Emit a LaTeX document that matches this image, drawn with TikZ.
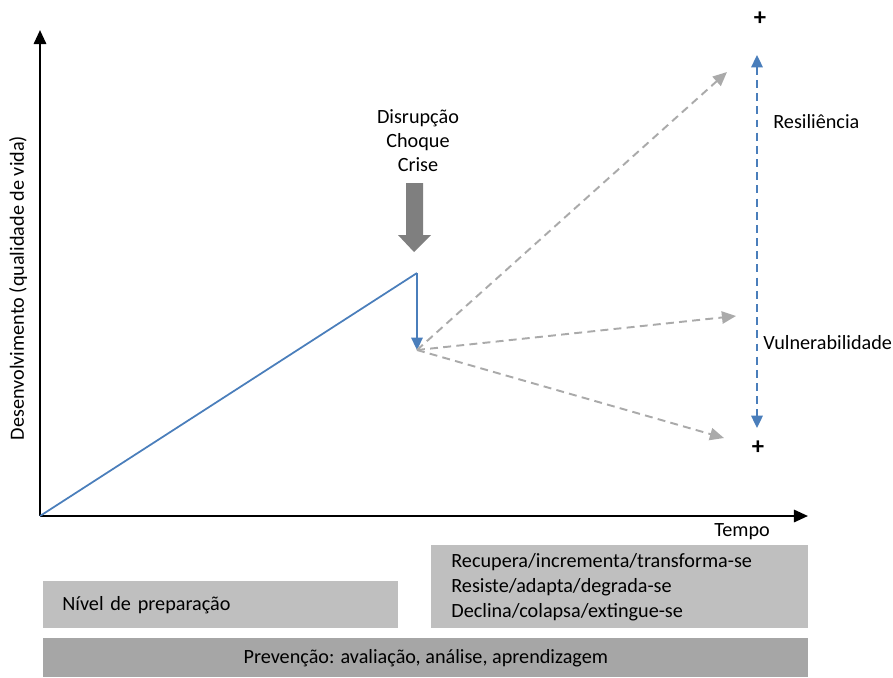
\documentclass[tikz,border=0pt]{standalone}
\usepackage{fontspec}
\setmainfont{Carlito}
\usetikzlibrary{arrows.meta}
\definecolor{curveblue}{RGB}{74,126,187}
\definecolor{pathgray}{RGB}{170,170,170}
\definecolor{shockgray}{RGB}{127,127,127}
\definecolor{panellight}{RGB}{191,191,191}
\definecolor{paneldark}{RGB}{166,166,166}
\tikzset{
  panel/.style={anchor=north west, inner ysep=0pt, align=left},
  outcome/.style={pathgray, line width=1.1pt, dash pattern=on 4.5pt off 3pt, -{Triangle[length=8pt,width=7pt]}},
  plusmark/.style={font=\fontsize{14}{14}\selectfont\bfseries, inner sep=0pt},
}
\begin{document}
\begin{tikzpicture}[x=0.02cm, y=-0.02cm, font=\fontsize{11.5}{13.6}\selectfont, line join=round, >={Triangle[length=8pt,width=7pt]}]
	\useasboundingbox (0,0) rectangle (893,677);
	% axes
	\coordinate (O) at (40,516);
	\coordinate (ytip) at (40,30);
	\coordinate (xtip) at (808,516);
	\draw[line width=1.3pt,->] (O)--(ytip);
	\draw[line width=1.3pt,->] (O)--(xtip);
	\node[rotate=90] (ylab) at (18,288) {Desenvolvimento (qualidade de vida)};
	\node (tempo) at (742,532) {Tempo};
	% development curve and drop
	\coordinate (peak) at (417,273);
	\coordinate (drop) at (417,350);
	\draw[curveblue, line width=1pt] (O)--(peak);
	\draw[curveblue, line width=1pt, -{Triangle[length=7pt,width=6.5pt]}] (peak)--(drop);
	% shock
	\node[align=center] (shock) at (418,141) {Disrupção\\Choque\\Crise};
	\fill[shockgray] (406,183)--(423,183)--(423,235)--(431,235)--(414,252) coordinate (shocktip)--(398,235)--(406,235)--cycle;
	% possible trajectories
	\coordinate (up) at (727,72);
	\coordinate (mid) at (736,316);
	\coordinate (down) at (724,438);
	\foreach \p in {up,mid,down} \draw[outcome] (drop)--(\p);
	% resilience / vulnerability scale
	\node[plusmark] (plustop) at (760,19) {+};
	\node[plusmark] (plusbot) at (758,448) {+};
	\coordinate (rtop) at (757,55);
	\coordinate (rbot) at (757,428);
	\draw[curveblue, line width=1.1pt, dash pattern=on 4.5pt off 3pt, {Triangle[length=7pt,width=6.5pt]}-{Triangle[length=7pt,width=6.5pt]}] (rtop)--(rbot);
	\node[anchor=west, inner sep=0pt] (resil) at (773,122) {Resiliência};
	\node[anchor=west, inner sep=0pt] (vulner) at (763,343) {Vulnerabilidade};
	% panels
	\node[panel, fill=panellight, minimum height=0.94cm, text width=6.34cm, inner xsep=0.38cm] (prep) at (43,581) {\mbox{Nível de preparação}};
	\node[panel, fill=panellight, minimum height=1.66cm, text width=6.74cm, inner xsep=0.4cm, font=\fontsize{11.5}{14.2}\selectfont] (result) at (431,545) {Recupera/incrementa/transforma-se\\Resiste/adapta/degrada-se\\Declina/colapsa/extingue-se};
	\node[panel, fill=paneldark, minimum height=0.78cm, minimum width=15.3cm, align=center] (prev) at (43,638) {Prevenção: avaliação, análise, aprendizagem};
\end{tikzpicture}
\end{document}
